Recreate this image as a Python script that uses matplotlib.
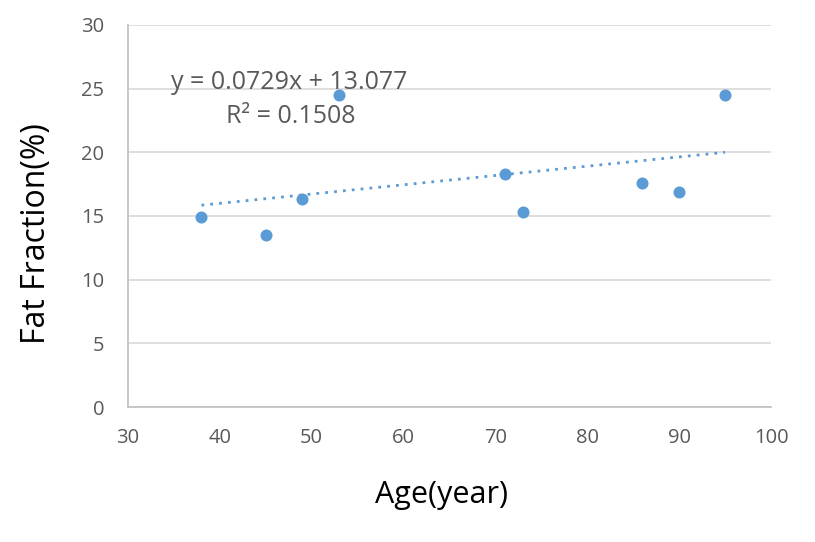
import matplotlib
matplotlib.use("Agg")
import matplotlib.pyplot as plt
import numpy as np

# data
age = [38, 45, 49, 53, 71, 73, 86, 90, 95]
fat_fraction = [14.9, 13.5, 16.3, 24.5, 18.3, 15.35, 17.6, 16.9, 24.5]
slope = 0.0729
intercept = 13.077
r_squared = 0.1508

blue = '#5B9BD5'
grey_text = '#595959'

plt.rcParams['font.family'] = ['Open Sans', 'DejaVu Sans']

fig = plt.figure(figsize=(8.15, 5.42), dpi=100)
ax = fig.add_axes([0.157, 0.249, 0.789, 0.705])

# scatter points
ax.scatter(age, fat_fraction, s=75, color=blue, zorder=3, linewidths=0)

# linear trendline (dotted)
tx = np.array([min(age), max(age)])
ax.plot(tx, slope * tx + intercept, color=blue, linestyle=(0, (1, 2.2)),
        linewidth=2, zorder=2)

# equation label
ax.text(47.6, 25.5, f'y = {slope}x + {intercept}', ha='center', va='center',
        fontsize=18, color=grey_text)
ax.text(47.7, 22.85, f'R² = {r_squared}', ha='center', va='center',
        fontsize=18, color=grey_text)

ax.set_xlim(30, 100)
ax.set_ylim(0, 30)
ax.set_xticks(range(30, 101, 10))
ax.set_yticks(range(0, 31, 5))

# gridlines and spines
ax.grid(axis='y', color='#D9D9D9', linewidth=1.2)
ax.set_axisbelow(True)
for side in ['top', 'right']:
    ax.spines[side].set_visible(False)
for side in ['bottom', 'left']:
    ax.spines[side].set_color('#BFBFBF')
    ax.spines[side].set_linewidth(1.2)
ax.tick_params(length=0, labelsize=14.5, labelcolor=grey_text)
ax.tick_params(axis='y', pad=17)
ax.tick_params(axis='x', pad=15)

ax.set_xlabel('Age(year)', fontsize=22)
ax.set_ylabel('Fat Fraction(%)', fontsize=23)
ax.xaxis.set_label_coords(0.487, -0.19)
ax.yaxis.set_label_coords(-0.116, 0.453)

fig.savefig('out.png', dpi=100)
